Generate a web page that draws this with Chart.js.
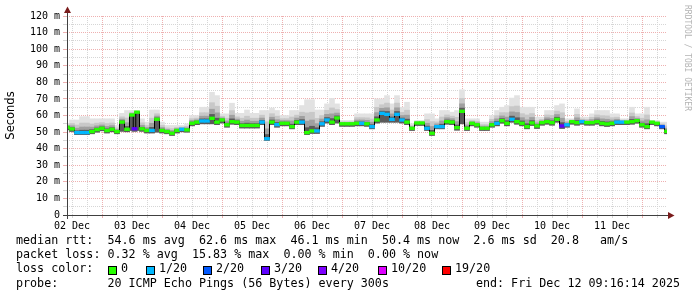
<!DOCTYPE html>
<html><head><meta charset="utf-8">
<script src="https://cdn.jsdelivr.net/npm/chart.js@4/dist/chart.umd.min.js"></script>
<style>
html,body{margin:0;padding:0;background:#fff;}
#wrap{position:relative;width:697px;height:297px;overflow:hidden;background:#fff;}
canvas{position:absolute;left:0;top:0;}
.t{position:absolute;font-family:"DejaVu Sans Mono",monospace;font-size:11.7px;line-height:14px;white-space:pre;color:#000;}
.sq{position:absolute;width:9px;height:9px;box-sizing:border-box;border:1px solid #000;top:266px;}
#wm{position:absolute;left:683px;top:5px;writing-mode:vertical-rl;font-family:"DejaVu Sans Mono",monospace;font-size:8px;line-height:9px;color:#b4b4b4;white-space:pre;}
</style></head>
<body>
<div id="wrap">
<canvas id="c" width="697" height="297"></canvas>
<div id="wm">RRDTOOL / TOBI OETIKER</div>
<div class="t" style="left:16px;top:233px;">median rtt:  54.6 ms avg  62.6 ms max  46.1 ms min  50.4 ms now  2.6 ms sd  20.8   am/s</div>
<div class="t" style="left:16px;top:247px;">packet loss: 0.32 % avg  15.83 % max  0.00 % min  0.00 % now</div>
<div class="t" style="left:16px;top:261px;">loss color:</div>
<div id="losslegend"></div>
<div class="t" style="left:16px;top:275.5px;">probe:       20 ICMP Echo Pings (56 Bytes) every 300s</div>
<div class="t" style="right:17px;top:275.5px;">end: Fri Dec 12 09:16:14 2025</div>
</div>
<script>
// ---- data (hours since 00:00 on 02 Dec) ----
const hours = [
 10,12,14,16,18,20,22,24,26,28,30,32,34,36,37,
 38,40,42,44,46,48,50,52,54,56,58,60,
 62,64,66,68,70,72,74,76,78,80,82,84,
 86,88,90,92,94,96,98,100,102,104,106,108,
 110,112,114,116,118,120,122,124,126,128,130,132,
 134,136,138,140,142,144,146,148,150,152,154,156,
 158,160,162,164,166,168,170,172,174,176,178,180,
 182,184,186,188,190,192,194,196,198,200,202,204,
 206,208,210,212,214,216,218,220,222,224,226,228,
 230,232,234,236,238,240,242,244,246,248,250];
const median = [
 52.9,51.9,49.7,49.7,49.7,50.3,51.5,52.3,50.9,51.7,50.3,56.0,51.7,60.3,52.0,
 62.0,52.0,51.0,51.0,57.7,51.0,50.3,49.3,51.0,51.7,51.3,55.3,
 56.0,56.7,56.7,58.3,56.0,57.3,54.4,56.3,56.0,54.0,54.0,54.0,
 54.0,56.0,46.0,56.0,54.5,55.3,55.3,53.3,56.0,56.0,49.7,50.7,
 50.7,55.0,57.3,56.0,58.5,55.0,55.0,55.0,55.3,55.3,55.0,53.3,
 57.3,61.3,60.7,57.7,60.7,57.3,56.0,52.3,55.5,55.5,52.3,49.3,
 53.3,53.3,56.3,56.0,52.7,62.5,52.3,55.3,54.4,52.3,52.3,54.4,
 55.3,56.9,55.3,57.7,56.3,55.3,53.3,55.5,53.7,55.7,56.3,55.7,
 57.7,53.7,54.4,56.3,55.7,56.3,55.7,55.7,56.3,55.3,54.9,55.3,
 56.0,56.0,56.0,56.3,56.9,54.4,53.3,56.0,55.3,53.3,50.4];
const lossCount = [
 0,0,1,1,1,0,0,0,0,0,0,0,0,0,3,
 0,0,0,1,0,0,0,0,0,1,0,0,
 0,1,1,0,0,0,0,0,0,0,0,0,
 0,1,1,0,1,0,0,0,0,1,0,0,
 1,1,1,0,0,0,0,0,0,1,0,1,
 0,1,1,1,1,1,0,0,0,0,1,0,
 1,1,0,0,0,0,0,0,0,0,0,0,
 1,0,0,1,0,0,0,0,0,0,0,0,
 0,3,1,0,0,1,0,0,0,0,0,0,
 1,1,0,0,0,0,0,0,0,2,0];
const smokeHi = [
 55.3,57.3,57.3,59.3,59.3,58.0,58.0,58.0,58.0,58.0,54.0,61.3,63.0,63.0,63.0,
 63.0,58.0,56.0,63.3,63.3,56.0,54.0,54.0,54.0,54.0,55.0,60.0,
 60.0,65.0,65.0,74.0,72.0,61.0,61.0,67.4,61.3,61.3,63.3,61.3,
 61.3,63.0,63.0,64.5,63.0,60.0,60.0,63.0,63.0,66.0,69.5,69.5,
 63.3,63.3,67.0,70.3,67.0,57.0,57.0,57.0,61.0,61.0,61.0,61.0,
 70.0,70.0,72.0,67.0,72.0,65.0,68.0,55.0,57.0,57.0,61.0,61.0,
 58.0,63.0,63.0,62.0,63.0,75.5,58.0,58.0,58.0,56.0,56.0,60.0,
 63.0,65.0,66.0,70.5,72.0,65.0,65.0,65.0,59.0,59.0,63.0,63.0,
 66.0,67.0,58.0,58.0,64.0,59.0,59.0,61.0,63.0,63.0,63.0,61.0,
 61.0,58.0,58.0,65.0,61.0,61.0,65.0,57.0,57.0,56.0,56.0];
const smokeLo = [
 51.4,50.4,48.5,48.5,48.5,49.0,50.0,50.8,49.5,50.2,49.0,50.5,50.2,51.0,50.5,
 51.0,50.5,49.5,49.5,50.0,49.5,49.0,48.0,49.5,50.2,50.0,53.8,
 54.5,55.0,55.0,55.0,54.5,55.5,53.0,54.8,54.5,52.5,52.5,52.5,
 52.5,54.5,45.0,54.5,53.0,53.8,53.8,52.0,54.5,54.5,48.5,49.2,
 49.2,53.5,55.5,54.5,55.5,53.5,53.5,53.5,53.8,53.8,53.5,52.0,
 55.5,56.0,56.0,56.0,56.0,55.5,54.5,51.0,54.0,54.0,51.0,48.0,
 52.0,52.0,54.8,54.5,51.2,55.0,51.0,53.8,53.0,51.0,51.0,53.0,
 53.8,55.4,53.8,56.0,54.8,53.8,52.0,54.0,52.2,54.2,54.8,54.2,
 56.0,52.2,53.0,54.8,54.2,54.8,54.2,54.2,54.8,53.8,53.4,53.8,
 54.5,54.5,54.5,54.8,55.4,53.0,52.0,54.5,53.8,52.0,49.0];
const tickHours = [12,18,24,30,36,42,48,54,60,66,72,78,84,90,96,102,108,114,120,126,
 132,138,144,150,156,162,168,174,180,186,192,198,204,210,216,222,228,234,240,246];
const labelHours = [12,36,60,84,108,132,156,180,204,228];
const dayLabels = ['02 Dec','03 Dec','04 Dec','05 Dec','06 Dec','07 Dec','08 Dec','09 Dec','10 Dec','11 Dec'];
const yTickLabels = ['0','10 m','20 m','30 m','40 m','50 m','60 m','70 m','80 m','90 m','100 m','110 m','120 m'];
const lossLegend = ['0','1/20','2/20','3/20','4/20','10/20','19/20'];
const lossColor = {0:'#26ff00',1:'#00b8ff',2:'#0059ff',3:'#5e00ff',4:'#7e00ff',10:'#dd00ff',19:'#ff0000'};
const lossLegendCounts = [0,1,2,3,4,10,19];

// ---- loss legend (html) ----
const sqX = [108,146,203,261,318,378,442];
const ll = document.getElementById('losslegend');
lossLegend.forEach((lab,i)=>{
  const s=document.createElement('div'); s.className='sq'; s.style.left=sqX[i]+'px';
  s.style.background=lossColor[lossLegendCounts[i]]; ll.appendChild(s);
  const t=document.createElement('div'); t.className='t'; t.style.left=(sqX[i]+13)+'px'; t.style.top='261px';
  t.textContent=lab; ll.appendChild(t);
});

// ---- chart ----
const MG='#eeb0b0', G='#d6d6d6';
const layers=[{f:1.0,c:'#e2e2e2'},{f:0.6,c:'#c8c8c8'},{f:0.35,c:'#a0a0a0'},{f:0.15,c:'#5a5a5a'}];
const smokeSets = layers.map((L,k)=>({
  type:'bar', grouped:false, barThickness:5, borderWidth:0, backgroundColor:L.c, order:10-k,
  data: hours.map((h,i)=>({x:h, y:[smokeLo[i], median[i]+(smokeHi[i]-median[i])*L.f]}))
}));
const axisPlugin={id:'axes',afterDraw(chart){
  const {ctx,chartArea:{left,right,top,bottom}}=chart;
  ctx.save();
  ctx.strokeStyle='#404040'; ctx.lineWidth=1; ctx.beginPath();
  ctx.moveTo(left+0.5,bottom+4); ctx.lineTo(left+0.5,top-4);
  ctx.moveTo(left-4,bottom+0.5); ctx.lineTo(right+2,bottom+0.5); ctx.stroke();
  ctx.fillStyle='#7a1c1c';
  ctx.beginPath(); ctx.moveTo(left+0.5-3.5,top-3); ctx.lineTo(left+0.5+3.5,top-3); ctx.lineTo(left+0.5,top-9.5); ctx.closePath(); ctx.fill();
  ctx.beginPath(); ctx.moveTo(right+1,bottom+0.5-3.5); ctx.lineTo(right+1,bottom+0.5+3.5); ctx.lineTo(right+7.5,bottom+0.5); ctx.closePath(); ctx.fill();
  ctx.restore();
}};
Chart.defaults.font.family='DejaVu Sans Mono';
new Chart(document.getElementById('c'),{
  type:'bar',
  data:{datasets:[
    {type:'bar', grouped:false, barThickness:5, borderWidth:0, order:1,
     backgroundColor: c => lossColor[lossCount[c.dataIndex]] || '#26ff00',
     data: hours.map((h,i)=>({x:h, y:[median[i]-0.8, median[i]+0.8]}))},
    {type:'line', order:2, stepped:'middle', borderColor:'#000', borderWidth:1, pointRadius:0,
     data: hours.map((h,i)=>({x:h, y:median[i]}))},
    ...smokeSets
  ]},
  options:{
    responsive:false, maintainAspectRatio:false, animation:false, devicePixelRatio:1, events:[],
    layout:{padding:{left:0,top:16,right:30,bottom:62}},
    plugins:{legend:{display:false},tooltip:{enabled:false}},
    scales:{
      x:{type:'linear', min:10, max:250, offset:false,
        afterBuildTicks: s => { s.ticks = tickHours.map(v=>({value:v})); },
        afterFit: s => { s.height = 20; },
        grid:{offset:false, lineWidth:1, drawTicks:true, tickLength:3,
          color: c => (c.tick && c.tick.value%24===0) ? MG : G,
          tickColor: c => (c.tick && c.tick.value%24===0) ? MG : G},
        border:{display:false, dash:[1,1]},
        ticks:{autoSkip:false, maxRotation:0, minRotation:0, padding:2, color:'#000',
          font:{family:'DejaVu Sans Mono', size:10},
          callback: v => { const i=labelHours.indexOf(v); return i>=0 ? dayLabels[i] : ''; }}
      },
      y:{type:'linear', min:0, max:120,
        afterFit: s => { s.width = 67; },
        grid:{lineWidth:1, drawTicks:true, tickLength:4,
          color: c => (c.tick && c.tick.value%10===0) ? MG : G,
          tickColor: c => (c.tick && c.tick.value%10===0) ? MG : G},
        border:{display:false, dash:[1,1]},
        ticks:{stepSize:5, autoSkip:false, padding:3, color:'#000',
          font:{family:'DejaVu Sans Mono', size:10},
          callback: v => v%10===0 ? yTickLabels[v/10] : ''},
        title:{display:true, text:'Seconds', color:'#000', font:{family:'DejaVu Sans', size:11.5}, padding:{top:4,bottom:0}}
      }
    }
  },
  plugins:[axisPlugin]
});
</script>
</body></html>
